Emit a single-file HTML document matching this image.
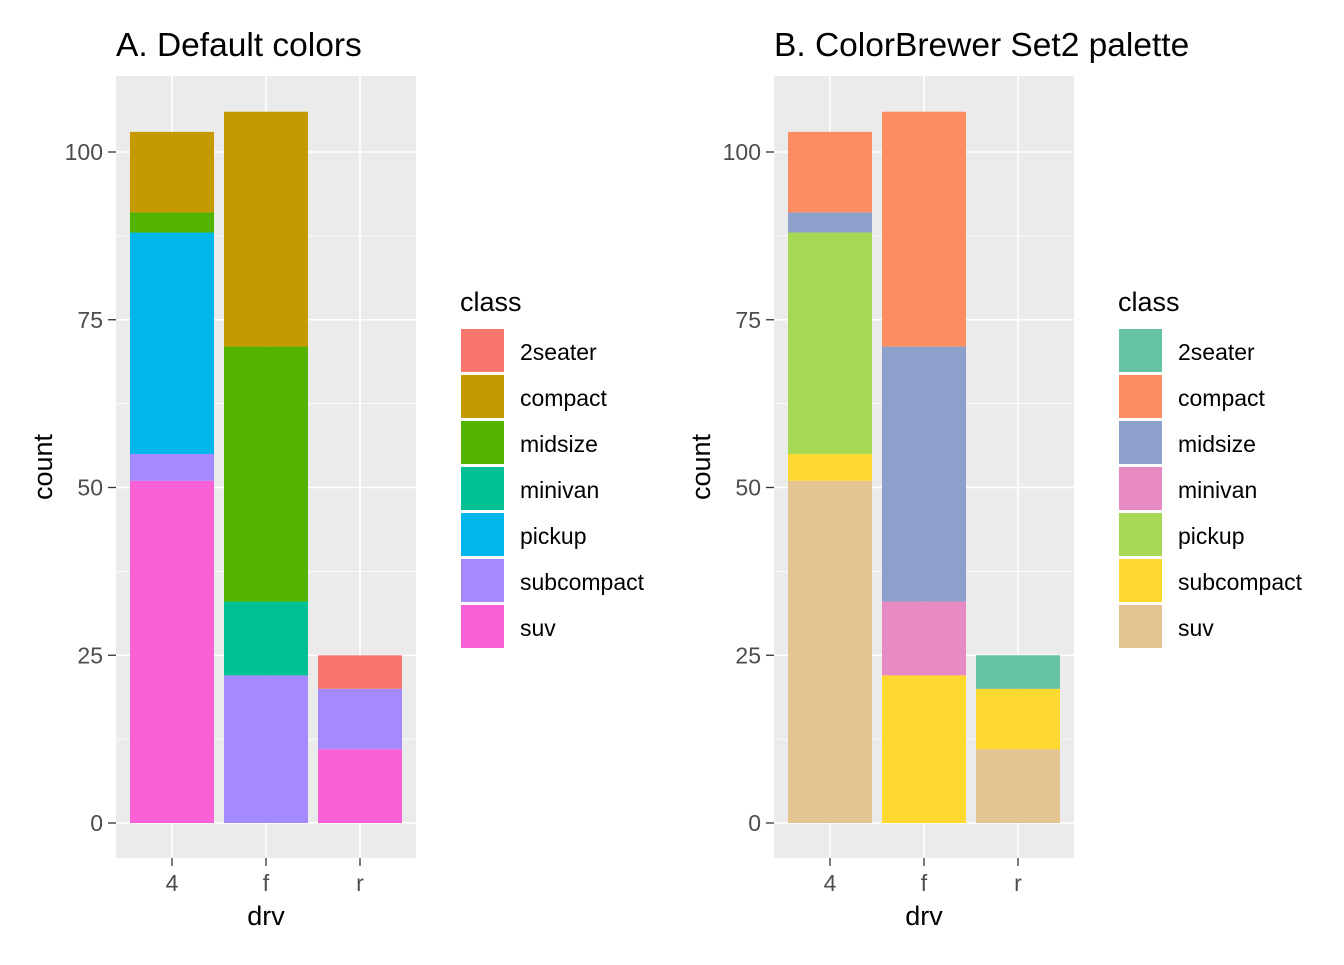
<!DOCTYPE html>
<html><head><meta charset="utf-8"><style>
body{margin:0;background:#fff;font-family:"Liberation Sans",sans-serif}
</style></head><body>
<svg id="chart" width="1344" height="960" xmlns="http://www.w3.org/2000/svg"></svg>
<script>
const drvs=["4","f","r"];
const classes=["2seater","compact","midsize","minivan","pickup","subcompact","suv"];
// counts per class for drv 4, f, r
const counts={
 "2seater":[0,0,5],
 "compact":[12,35,0],
 "midsize":[3,38,0],
 "minivan":[0,11,0],
 "pickup":[33,0,0],
 "subcompact":[4,22,9],
 "suv":[51,0,11]
};
const yTicks=[0,25,50,75,100];
const paletteA=["#F8766D","#C49A00","#53B400","#00C094","#00B6EB","#A58AFF","#FB61D7"];
const paletteB=["#66C2A5","#FC8D62","#8DA0CB","#E78AC3","#A6D854","#FFD92F","#E5C494"];
const titles=["A. Default colors","B. ColorBrewer Set2 palette"];
const NS="http://www.w3.org/2000/svg";
const svg=document.getElementById('chart');
function mk(tag,attrs,parent,text){const e=document.createElementNS(NS,tag);for(const k in attrs)e.setAttribute(k,attrs[k]);if(text!==undefined)e.textContent=text;(parent||svg).appendChild(e);return e;}
[paletteA,paletteB].forEach((pal,pi)=>{
 const ox=pi*658;
 const g=mk('g',{});
 
 
 const L=116+ox,R=416+ox,T=76,B=858;
 const y=v=>823-v*6.71;
 const x=i=>172+ox+i*94;
 const t=mk('text',{x:116+ox,y:56,'font-size':'33.5',fill:'#000'},g,titles[pi]);
 
 
 const bg=mk('rect',{x:L,y:T,width:R-L,height:B-T,fill:'#EBEBEB'},g);
 
 
 for(let k=0;k<yTicks.length-1;k++){const v=(yTicks[k]+yTicks[k+1])/2;mk('line',{x1:L,x2:R,y1:y(v),y2:y(v),stroke:'#fff','stroke-width':0.8},g);}
 mk('line',{x1:L,x2:R,y1:y(112.5),y2:y(112.5),stroke:'#fff','stroke-width':0.8},g);
 yTicks.forEach(v=>{
  mk('line',{x1:L,x2:R,y1:y(v),y2:y(v),stroke:'#fff','stroke-width':1.6},g);
  mk('line',{x1:L-8,x2:L,y1:y(v),y2:y(v),stroke:'#333','stroke-width':1.3},g);
  const tl=mk('text',{x:L-13,y:y(v)+8,'font-size':'23','text-anchor':'end',fill:'#4D4D4D'},g,v);
  
  
 });
 drvs.forEach((d,i)=>{
  mk('line',{x1:x(i),x2:x(i),y1:T,y2:B,stroke:'#fff','stroke-width':1.6},g);
  mk('line',{x1:x(i),x2:x(i),y1:B,y2:B+8,stroke:'#333','stroke-width':1.3},g);
  const tl=mk('text',{x:x(i),y:B+33,'font-size':'23','text-anchor':'middle',fill:'#4D4D4D'},g,d);
  
  
  let cum=0;
  for(let c=classes.length-1;c>=0;c--){
   const v=counts[classes[c]][i];if(!v)continue;
   const r=mk('rect',{x:x(i)-42,width:84,y:y(cum+v),height:y(cum)-y(cum+v),fill:pal[c]},g);
   
   
   cum+=v;
  }
 });
 const xt=mk('text',{x:(L+R)/2,y:925,'font-size':'27','text-anchor':'middle'},g,'drv');
 
 
 const yt=mk('text',{x:0,y:0,'font-size':'27','text-anchor':'middle',transform:`translate(${52+ox},467) rotate(-90)`},g,'count');
 
 
 const lt=mk('text',{x:460+ox,y:311,'font-size':'27'},g,'class');
 
 
 classes.forEach((c,k)=>{
  const yy=328+k*46;
  const kr=mk('rect',{x:460+ox,y:yy,width:45,height:45,fill:pal[k],stroke:'#fff','stroke-width':2},g);
  
  
  const lb=mk('text',{x:520+ox,y:yy+32,'font-size':'23'},g,c);
  
  
 });
});
</script>
</body></html>
